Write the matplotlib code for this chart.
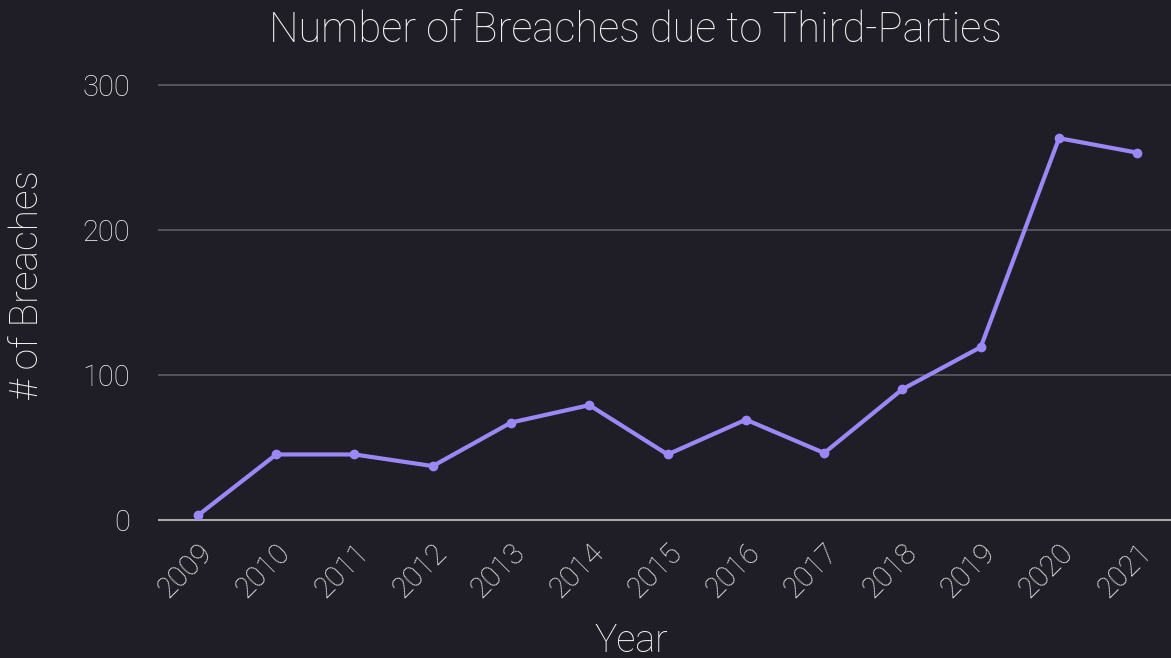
import numpy as np
import matplotlib.pyplot as plt

# data
years = ['2009', '2010', '2011', '2012', '2013', '2014', '2015',
         '2016', '2017', '2018', '2019', '2020', '2021']
breaches = [3, 45, 45, 37, 67, 79, 45, 69, 46, 90, 119, 263, 253]
yticks = [0, 100, 200, 300]

bg = '#1f1e26'
line_col = '#9c87f7'
txt = '#f2f2f2'

plt.rcParams['font.family'] = ['Roboto', 'DejaVu Sans']

W, H = 1171, 658
fig = plt.figure(figsize=(W / 100, H / 100), dpi=100, facecolor=bg)
ax = fig.add_axes([158 / W, 1 - 527 / H, 1 - 158 / W, (527 - 70) / H])
ax.set_facecolor(bg)

x = np.arange(len(years))
ax.plot(x, breaches, color=line_col, lw=3, marker='o', ms=6, zorder=3,
        solid_capstyle='round')

ax.set_xlim(-0.51, 12.43)
ax.set_ylim(-5, 310)
ax.set_yticks(yticks)
ax.set_xticks(x)
ax.set_xticklabels(years, rotation=45, ha='right', rotation_mode='anchor')

for v in yticks:
    ax.axhline(v, color='#aaaaaa' if v == 0 else '#5e5d63', lw=1.5 if v == 0 else 1.2, zorder=1)

for s in ax.spines.values():
    s.set_visible(False)
ax.tick_params(axis='both', length=0, colors=txt, labelsize=21)
ax.tick_params(axis='y', pad=20)
ax.tick_params(axis='x', pad=8)
for lab in ax.get_xticklabels() + ax.get_yticklabels():
    lab.set_fontweight('light')

fig.text(635 / W, 1 - 30 / H, 'Number of Breaches due to Third-Parties', color=txt,
         fontsize=30, fontweight='light', ha='center', va='center')
fig.text(631 / W, 1 - 641 / H, 'Year', color=txt, fontsize=27,
         fontweight='light', ha='center', va='center')
fig.text(27 / W, 1 - 285 / H, '# of Breaches', color=txt, fontsize=28,
         fontweight='light', ha='center', va='center', rotation=90)

fig.savefig('out.png', dpi=100, facecolor=bg)
